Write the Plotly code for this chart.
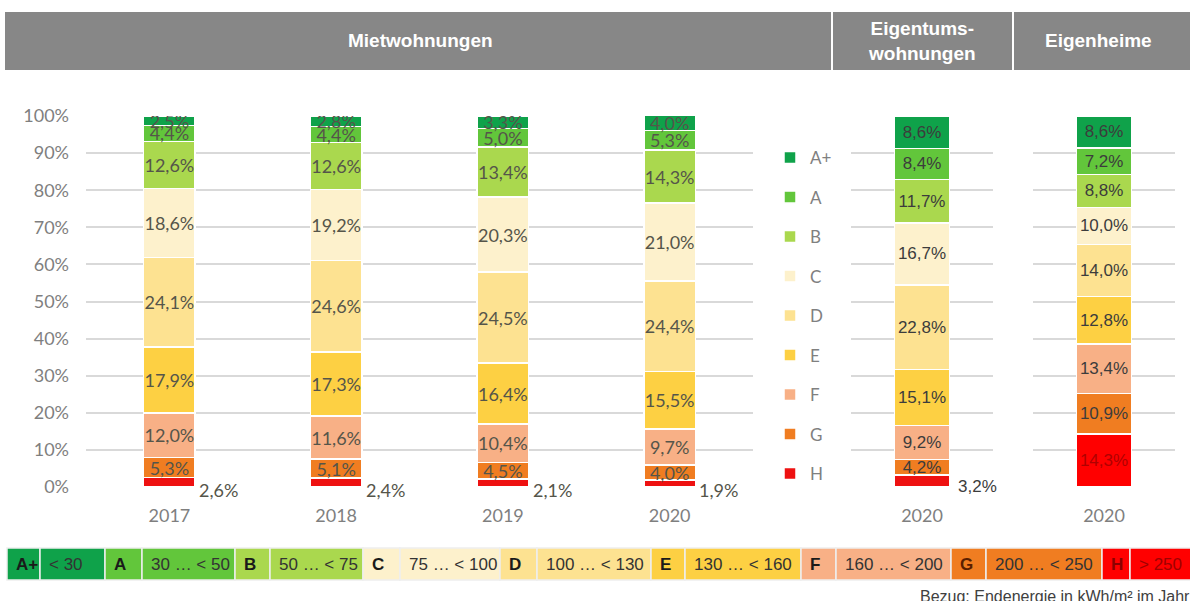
import plotly.graph_objects as go

# ---------------- data ----------------
classes = ["H", "G", "F", "E", "D", "C", "B", "A", "A+"]          # bottom -> top
class_colors = ["#ee1111", "#f07d21", "#f8b086", "#fdd043", "#fde291",
                "#fdf1cc", "#aad84e", "#62c63b", "#0fa24a"]

miet_years = ["2017", "2018", "2019", "2020"]
miet_2017 = [2.6, 5.3, 12.0, 17.9, 24.1, 18.6, 12.6, 4.4, 2.5]
miet_2018 = [2.4, 5.1, 11.6, 17.3, 24.6, 19.2, 12.6, 4.4, 2.8]
miet_2019 = [2.1, 4.5, 10.4, 16.4, 24.5, 20.3, 13.4, 5.0, 3.3]
miet_2020 = [1.9, 4.0, 9.7, 15.5, 24.4, 21.0, 14.3, 5.3, 4.0]

etw_year = ["2020"]
etw_2020 = [3.2, 4.2, 9.2, 15.1, 22.8, 16.7, 11.7, 8.4, 8.6]

eh_year = ["2020"]
eh_2020 = [14.3, 10.9, 13.4, 12.8, 14.0, 10.0, 8.8, 7.2, 8.6]

y_ticks = [0, 10, 20, 30, 40, 50, 60, 70, 80, 90, 100]
y_ticktext = [f"{v}%" for v in y_ticks]

header_titles = ["Mietwohnungen", "Eigentums-<br>wohnungen", "Eigenheime"]

scale_letters = ["A+", "A", "B", "C", "D", "E", "F", "G", "H"]
scale_ranges = ["< 30", "30 … < 50", "50 … < 75", "75 … < 100", "100 … < 130",
                "130 … < 160", "160 … < 200", "200 … < 250", "> 250"]
scale_colors = ["#0fa24a", "#62c63b", "#aad84e", "#fdf1cc", "#fde291",
                "#fdd043", "#f8b086", "#f07d21", "#ff0000"]
footnote = "Bezug: Endenergie in kWh/m² im Jahr"

# ---------------- helpers (layout geometry) ----------------
W, H = 1190, 601


def px(x):
    return x / W


def py(y):
    return 1 - y / H


def fmt(v):
    return f"{v:.1f}".replace(".", ",") + "%"


miet_series = [miet_2017, miet_2018, miet_2019, miet_2020]

fig = go.Figure()

LEFT_FONT = "Lato, 'Open Sans', sans-serif"
ARIAL = "'Liberation Sans', Arial, sans-serif"
LABEL_COL = "#55554a"

left_w = 0.31
right_w = 0.39

for i, cls in enumerate(classes):
    rank = 1000 - 10 * i
    vals = [s[i] for s in miet_series]
    txt = [fmt(v) for v in vals] if cls != "H" else ["" for _ in vals]
    fig.add_trace(go.Bar(
        x=miet_years, y=vals, name=cls, legendgroup=cls, legendrank=rank,
        showlegend=True,
        marker=dict(color=class_colors[i], line=dict(color="white", width=1.5)),
        width=left_w, text=txt, textposition="inside", insidetextanchor="middle",
        textangle=0, constraintext="none",
        textfont=dict(family=LEFT_FONT, size=18, color=LABEL_COL),
        xaxis="x", yaxis="y", hoverinfo="skip"))
    # Eigentumswohnungen
    t2 = [fmt(etw_2020[i])] if cls != "H" else [""]
    fig.add_trace(go.Bar(
        x=etw_year, y=[etw_2020[i]], name=cls, legendgroup=cls, legendrank=rank,
        showlegend=False,
        marker=dict(color=class_colors[i], line=dict(color="white", width=1.5)),
        width=right_w, text=t2, textposition="inside", insidetextanchor="middle",
        textangle=0, constraintext="none",
        textfont=dict(family=ARIAL, size=17, color="#3c3c3c"),
        xaxis="x2", yaxis="y2", hoverinfo="skip"))
    # Eigenheime
    fig.add_trace(go.Bar(
        x=eh_year, y=[eh_2020[i]], name=cls, legendgroup=cls, legendrank=rank,
        showlegend=False,
        marker=dict(color="#ff0000" if cls == "H" else class_colors[i],
                    line=dict(color="white", width=1.5)),
        width=right_w, text=[fmt(eh_2020[i])], textposition="inside",
        insidetextanchor="middle", textangle=0, constraintext="none",
        textfont=dict(family=ARIAL, size=17,
                      color="#b00000" if cls == "H" else "#3c3c3c"),
        xaxis="x3", yaxis="y3", hoverinfo="skip"))

# H labels placed outside (right of bar)
annotations = []
for k, yr in enumerate(miet_years):
    annotations.append(dict(x=k + left_w / 2, y=0, xref="x", yref="y",
                            text=fmt(miet_series[k][0]), showarrow=False,
                            xanchor="left", yanchor="middle", xshift=2, yshift=-3,
                            font=dict(family=LEFT_FONT, size=18, color=LABEL_COL)))
annotations.append(dict(x=right_w / 2, y=0, xref="x2", yref="y2",
                        text=fmt(etw_2020[0]), showarrow=False,
                        xanchor="left", yanchor="middle", xshift=6, yshift=1,
                        font=dict(family=ARIAL, size=17, color="#3c3c3c")))

ydom = [py(487), py(116)]
yax = dict(range=[0, 100], domain=ydom, tickmode="array", tickvals=y_ticks,
           showgrid=True, gridcolor="#d9d9d9", gridwidth=2, zeroline=False,
           showline=False, fixedrange=True)
xax = dict(showgrid=False, zeroline=False, showline=False, ticks="",
           ticklabelstandoff=16,
           tickfont=dict(family=LEFT_FONT, size=18, color="#7f7f7f"), fixedrange=True)

fig.update_layout(
    width=W, height=H, margin=dict(l=0, r=0, t=0, b=0, autoexpand=False),
    plot_bgcolor="white", paper_bgcolor="white",
    barmode="stack", separators=",.",
    showlegend=True,
    legend=dict(x=px(770), y=py(140), xanchor="left", yanchor="top",
                traceorder="grouped", tracegroupgap=14.4,
                font=dict(family=LEFT_FONT, size=17, color="#808080"),
                bgcolor="rgba(0,0,0,0)"),
    xaxis=dict(domain=[px(86), px(753)], range=[-0.5, 3.5], **xax),
    xaxis2=dict(domain=[px(851), px(993)], range=[-0.5, 0.5], **xax),
    xaxis3=dict(domain=[px(1033), px(1175)], range=[-0.5, 0.5], **xax),
    yaxis=dict(anchor="x", ticktext=y_ticktext, showticklabels=True, ticks="",
               ticklabelstandoff=16,
               tickfont=dict(family=LEFT_FONT, size=18, color="#7f7f7f"), **yax),
    yaxis2=dict(anchor="x2", showticklabels=False, **yax),
    yaxis3=dict(anchor="x3", showticklabels=False, **yax),
)

shapes = []
# header band
shapes.append(dict(type="rect", xref="paper", yref="paper",
                   x0=px(5), x1=px(1190), y0=py(70), y1=py(12),
                   fillcolor="#878787", line=dict(width=0), layer="above"))
for sx in [832, 1013]:
    shapes.append(dict(type="line", xref="paper", yref="paper",
                       x0=px(sx), x1=px(sx), y0=py(70), y1=py(12),
                       line=dict(color="white", width=2), layer="above"))
header_x = [420, 922, 1098]
for t, hx in zip(header_titles, header_x):
    annotations.append(dict(x=px(hx), y=py(41), xref="paper", yref="paper",
                            text=f"<b>{t}</b>", showarrow=False,
                            xanchor="center", yanchor="middle",
                            font=dict(family=ARIAL, size=19, color="white")))

# bottom energy-class scale
cell_edges = [7, 40, 105, 142, 235, 270, 363, 400, 500, 537, 651, 685,
              801, 836, 951, 986, 1102, 1130, 1192]
for j in range(9):
    for part in range(2):
        x0 = cell_edges[2 * j + part]
        x1 = cell_edges[2 * j + part + 1]
        shapes.append(dict(type="rect", xref="paper", yref="paper",
                           x0=px(x0), x1=px(x1), y0=py(580), y1=py(548),
                           fillcolor=scale_colors[j],
                           line=dict(color="#eeeeee", width=1.5)))
        if part == 0:
            txt = f"<b>{scale_letters[j]}</b>"
            col = "#1a1a1a"
            if scale_letters[j] == "G":
                col = "#5a1f00"
            if scale_letters[j] == "H":
                col = "#8b0000"
        else:
            txt = scale_ranges[j]
            col = "#333333"
            if scale_letters[j] == "H":
                col = "#a00000"
        annotations.append(dict(x=px(x0 + 7), y=py(564), xref="paper", yref="paper",
                                text=txt, showarrow=False, xanchor="left",
                                yanchor="middle",
                                font=dict(family=ARIAL, size=17, color=col)))

annotations.append(dict(x=px(918), y=py(596), xref="paper", yref="paper",
                        text=footnote, showarrow=False, xanchor="left",
                        yanchor="middle",
                        font=dict(family=ARIAL, size=16, color="#404040")))

fig.update_layout(shapes=shapes, annotations=annotations)

# pin the figure to the top-left corner of the page (no body margin offset)
pin_js = ("document.body.style.margin='0';"
          "var d=document.getElementById('{plot_id}');"
          "d.style.position='fixed';d.style.left='0px';d.style.top='0px';")
fig.write_html("out.html", post_script=pin_js,
               config={"displayModeBar": False, "staticPlot": True})
